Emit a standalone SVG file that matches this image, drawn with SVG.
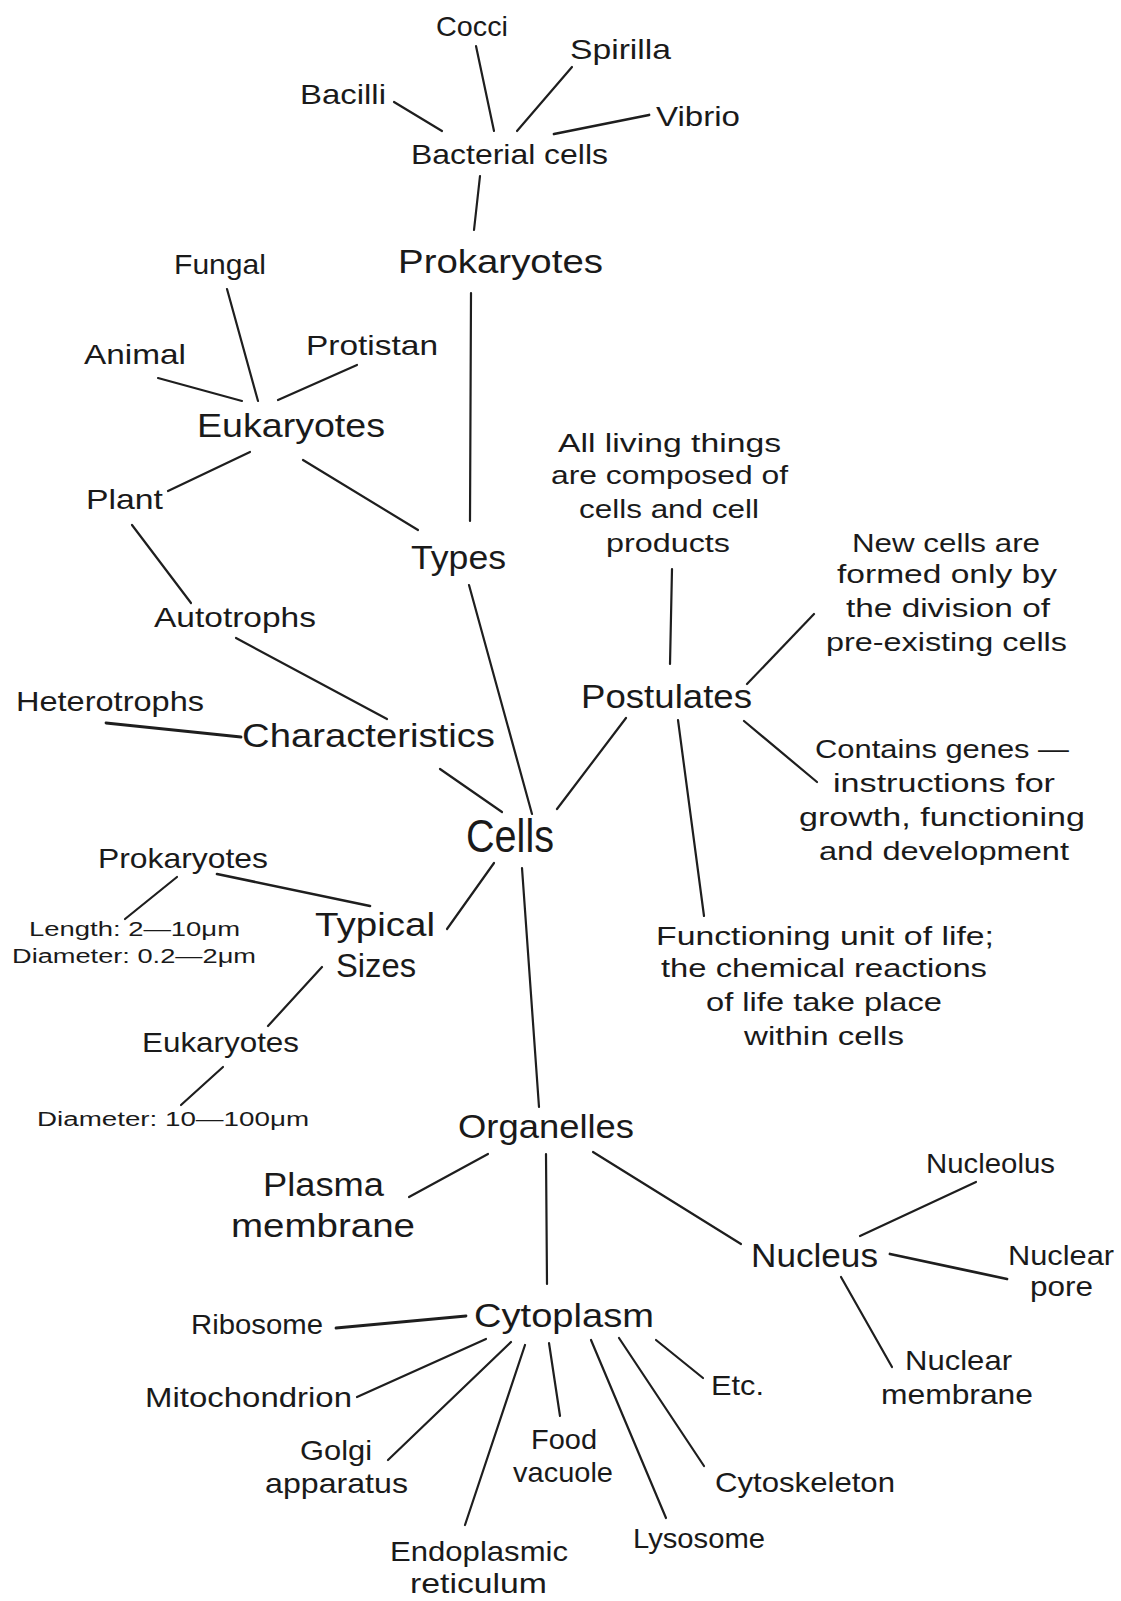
<svg xmlns="http://www.w3.org/2000/svg" width="1121" height="1601" viewBox="0 0 1121 1601">
<style>
text{font-family:"Liberation Sans","DejaVu Sans",sans-serif;fill:#1a1a1a}
.s{font-size:28px}
.b{font-size:33px}
.c{font-size:47px}
.p{font-size:26px}
.d{font-size:20px}
#connectors line{stroke:#1e1e1e;stroke-width:2.2;stroke-linecap:round}
</style>
<rect width="1121" height="1601" fill="#fff"/>
<g id="connectors">
<line x1="476" y1="46" x2="494" y2="131"/>
<line x1="572" y1="67" x2="517" y2="131"/>
<line x1="394" y1="102" x2="442" y2="131"/>
<line x1="649" y1="115" x2="554" y2="134" style="stroke-width:2.8"/>
<line x1="480" y1="176" x2="474" y2="230"/>
<line x1="471" y1="293" x2="470" y2="521"/>
<line x1="227" y1="289" x2="258" y2="401"/>
<line x1="158" y1="378" x2="242" y2="401"/>
<line x1="357" y1="365" x2="278" y2="400"/>
<line x1="250" y1="452" x2="168" y2="491"/>
<line x1="303" y1="460" x2="418" y2="530"/>
<line x1="132" y1="525" x2="191" y2="603"/>
<line x1="236" y1="638" x2="387" y2="719"/>
<line x1="106" y1="723" x2="241" y2="737" style="stroke-width:2.8"/>
<line x1="440" y1="769" x2="502" y2="812"/>
<line x1="469" y1="585" x2="532" y2="814"/>
<line x1="626" y1="718" x2="557" y2="809"/>
<line x1="672" y1="569" x2="670" y2="664"/>
<line x1="814" y1="614" x2="747" y2="684"/>
<line x1="744" y1="721" x2="817" y2="782"/>
<line x1="678" y1="720" x2="704" y2="916"/>
<line x1="494" y1="863" x2="447" y2="929"/>
<line x1="217" y1="874" x2="370" y2="906" style="stroke-width:2.6"/>
<line x1="177" y1="877" x2="125" y2="919"/>
<line x1="322" y1="967" x2="268" y2="1026"/>
<line x1="223" y1="1067" x2="181" y2="1105"/>
<line x1="522" y1="868" x2="539" y2="1107"/>
<line x1="488" y1="1154" x2="409" y2="1197"/>
<line x1="546" y1="1154" x2="547" y2="1284"/>
<line x1="593" y1="1152" x2="741" y2="1244"/>
<line x1="976" y1="1182" x2="860" y2="1236"/>
<line x1="890" y1="1254" x2="1007" y2="1279" style="stroke-width:2.8"/>
<line x1="841" y1="1277" x2="892" y2="1367"/>
<line x1="336" y1="1328" x2="466" y2="1316" style="stroke-width:2.8"/>
<line x1="486" y1="1339" x2="357" y2="1397"/>
<line x1="511" y1="1342" x2="388" y2="1460"/>
<line x1="525" y1="1345" x2="465" y2="1525"/>
<line x1="549" y1="1343" x2="560" y2="1416"/>
<line x1="591" y1="1340" x2="666" y2="1518"/>
<line x1="619" y1="1338" x2="704" y2="1466"/>
<line x1="656" y1="1340" x2="703" y2="1378"/>
</g>
<g id="cocci"><text class="s" x="436" y="36" textLength="72" lengthAdjust="spacingAndGlyphs">Cocci</text></g>
<g id="spirilla"><text class="s" x="570" y="59" textLength="101" lengthAdjust="spacingAndGlyphs">Spirilla</text></g>
<g id="bacilli"><text class="s" x="300" y="104" textLength="86" lengthAdjust="spacingAndGlyphs">Bacilli</text></g>
<g id="vibrio"><text class="s" x="656" y="126" textLength="84" lengthAdjust="spacingAndGlyphs">Vibrio</text></g>
<g id="bacterial-cells"><text class="s" x="411" y="164" textLength="197" lengthAdjust="spacingAndGlyphs">Bacterial cells</text></g>
<g id="prokaryotes"><text class="b" x="398" y="273" textLength="205" lengthAdjust="spacingAndGlyphs">Prokaryotes</text></g>
<g id="fungal"><text class="s" x="174" y="274" textLength="92" lengthAdjust="spacingAndGlyphs">Fungal</text></g>
<g id="animal"><text class="s" x="84" y="364" textLength="102" lengthAdjust="spacingAndGlyphs">Animal</text></g>
<g id="protistan"><text class="s" x="306" y="355" textLength="132" lengthAdjust="spacingAndGlyphs">Protistan</text></g>
<g id="eukaryotes"><text class="b" x="197" y="437" textLength="188" lengthAdjust="spacingAndGlyphs">Eukaryotes</text></g>
<g id="plant"><text class="s" x="86" y="509" textLength="77" lengthAdjust="spacingAndGlyphs">Plant</text></g>
<g id="postulate-1">
<text class="p" x="558" y="452" textLength="223" lengthAdjust="spacingAndGlyphs">All living things</text>
<text class="p" x="551" y="484" textLength="237" lengthAdjust="spacingAndGlyphs">are composed of</text>
<text class="p" x="579" y="518" textLength="180" lengthAdjust="spacingAndGlyphs">cells and cell</text>
<text class="p" x="606" y="552" textLength="124" lengthAdjust="spacingAndGlyphs">products</text>
</g>
<g id="postulate-2">
<text class="p" x="852" y="552" textLength="188" lengthAdjust="spacingAndGlyphs">New cells are</text>
<text class="p" x="837" y="583" textLength="220" lengthAdjust="spacingAndGlyphs">formed only by</text>
<text class="p" x="846" y="617" textLength="204" lengthAdjust="spacingAndGlyphs">the division of</text>
<text class="p" x="826" y="651" textLength="241" lengthAdjust="spacingAndGlyphs">pre-existing cells</text>
</g>
<g id="types"><text class="b" x="411" y="569" textLength="95" lengthAdjust="spacingAndGlyphs">Types</text></g>
<g id="autotrophs"><text class="s" x="154" y="627" textLength="162" lengthAdjust="spacingAndGlyphs">Autotrophs</text></g>
<g id="postulates"><text class="b" x="581" y="708" textLength="171" lengthAdjust="spacingAndGlyphs">Postulates</text></g>
<g id="heterotrophs"><text class="s" x="16" y="711" textLength="188" lengthAdjust="spacingAndGlyphs">Heterotrophs</text></g>
<g id="characteristics"><text class="b" x="242" y="747" textLength="253" lengthAdjust="spacingAndGlyphs">Characteristics</text></g>
<g id="postulate-3">
<text class="p" x="815" y="758" textLength="254" lengthAdjust="spacingAndGlyphs">Contains genes —</text>
<text class="p" x="833" y="792" textLength="222" lengthAdjust="spacingAndGlyphs">instructions for</text>
<text class="p" x="799" y="826" textLength="286" lengthAdjust="spacingAndGlyphs">growth, functioning</text>
<text class="p" x="819" y="860" textLength="250" lengthAdjust="spacingAndGlyphs">and development</text>
</g>
<g id="cells"><text class="c" x="466" y="852" textLength="88" lengthAdjust="spacingAndGlyphs">Cells</text></g>
<g id="prokaryotes-size"><text class="s" x="98" y="868" textLength="170" lengthAdjust="spacingAndGlyphs">Prokaryotes</text></g>
<g id="prokaryotes-dims">
<text class="d" x="29" y="936" textLength="211" lengthAdjust="spacingAndGlyphs">Length: 2—10μm</text>
<text class="d" x="12" y="963" textLength="244" lengthAdjust="spacingAndGlyphs">Diameter: 0.2—2μm</text>
</g>
<g id="typical-sizes">
<text class="b" x="315" y="936" textLength="120" lengthAdjust="spacingAndGlyphs">Typical</text>
<text class="b" x="336" y="977" textLength="80" lengthAdjust="spacingAndGlyphs">Sizes</text>
</g>
<g id="postulate-4">
<text class="p" x="656" y="945" textLength="338" lengthAdjust="spacingAndGlyphs">Functioning unit of life;</text>
<text class="p" x="661" y="977" textLength="326" lengthAdjust="spacingAndGlyphs">the chemical reactions</text>
<text class="p" x="706" y="1011" textLength="236" lengthAdjust="spacingAndGlyphs">of life take place</text>
<text class="p" x="744" y="1045" textLength="160" lengthAdjust="spacingAndGlyphs">within cells</text>
</g>
<g id="eukaryotes-size"><text class="s" x="142" y="1052" textLength="157" lengthAdjust="spacingAndGlyphs">Eukaryotes</text></g>
<g id="eukaryotes-dims"><text class="d" x="37" y="1126" textLength="272" lengthAdjust="spacingAndGlyphs">Diameter: 10—100μm</text></g>
<g id="organelles"><text class="b" x="458" y="1138" textLength="176" lengthAdjust="spacingAndGlyphs">Organelles</text></g>
<g id="plasma-membrane">
<text class="b" x="263" y="1196" textLength="121" lengthAdjust="spacingAndGlyphs">Plasma</text>
<text class="b" x="231" y="1237" textLength="184" lengthAdjust="spacingAndGlyphs">membrane</text>
</g>
<g id="nucleolus"><text class="s" x="926" y="1173" textLength="129" lengthAdjust="spacingAndGlyphs">Nucleolus</text></g>
<g id="nucleus"><text class="b" x="751" y="1267" textLength="127" lengthAdjust="spacingAndGlyphs">Nucleus</text></g>
<g id="nuclear-pore">
<text class="s" x="1008" y="1265" textLength="106" lengthAdjust="spacingAndGlyphs">Nuclear</text>
<text class="s" x="1030" y="1296" textLength="63" lengthAdjust="spacingAndGlyphs">pore</text>
</g>
<g id="cytoplasm"><text class="b" x="474" y="1327" textLength="180" lengthAdjust="spacingAndGlyphs">Cytoplasm</text></g>
<g id="ribosome"><text class="s" x="191" y="1334" textLength="132" lengthAdjust="spacingAndGlyphs">Ribosome</text></g>
<g id="nuclear-membrane">
<text class="s" x="905" y="1370" textLength="107" lengthAdjust="spacingAndGlyphs">Nuclear</text>
<text class="s" x="881" y="1404" textLength="152" lengthAdjust="spacingAndGlyphs">membrane</text>
</g>
<g id="mitochondrion"><text class="s" x="145" y="1407" textLength="207" lengthAdjust="spacingAndGlyphs">Mitochondrion</text></g>
<g id="etc"><text class="s" x="711" y="1395" textLength="53" lengthAdjust="spacingAndGlyphs">Etc.</text></g>
<g id="golgi">
<text class="s" x="300" y="1460" textLength="72" lengthAdjust="spacingAndGlyphs">Golgi</text>
<text class="s" x="265" y="1493" textLength="143" lengthAdjust="spacingAndGlyphs">apparatus</text>
</g>
<g id="food-vacuole">
<text class="s" x="531" y="1449" textLength="66" lengthAdjust="spacingAndGlyphs">Food</text>
<text class="s" x="513" y="1482" textLength="100" lengthAdjust="spacingAndGlyphs">vacuole</text>
</g>
<g id="cytoskeleton"><text class="s" x="715" y="1492" textLength="180" lengthAdjust="spacingAndGlyphs">Cytoskeleton</text></g>
<g id="lysosome"><text class="s" x="633" y="1548" textLength="132" lengthAdjust="spacingAndGlyphs">Lysosome</text></g>
<g id="endoplasmic-reticulum">
<text class="s" x="390" y="1561" textLength="178" lengthAdjust="spacingAndGlyphs">Endoplasmic</text>
<text class="s" x="410" y="1593" textLength="137" lengthAdjust="spacingAndGlyphs">reticulum</text>
</g>
</svg>
